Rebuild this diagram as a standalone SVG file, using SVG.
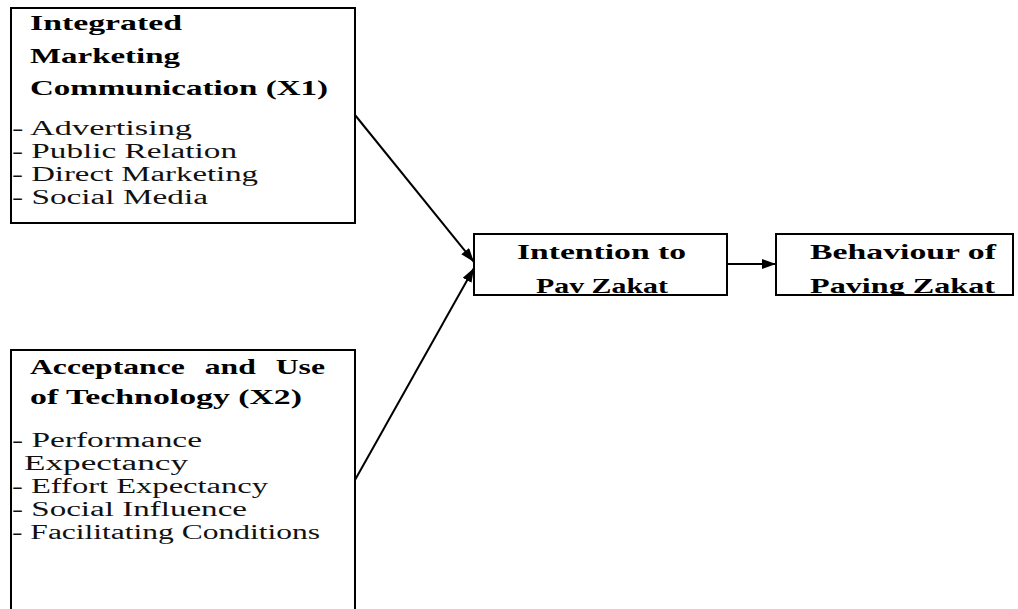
<svg xmlns="http://www.w3.org/2000/svg" width="1018" height="609" viewBox="0 0 1018 609">
<style>
.box{fill:#fff;stroke:#000;stroke-width:2}
.h{font-family:"Liberation Serif","Times New Roman",serif;font-weight:bold;font-size:21px;fill:#000}
.t{font-family:"Liberation Serif","Times New Roman",serif;font-size:20px;fill:#111}
.c{fill:none;stroke:#000;stroke-width:2}
</style>
<defs>
<marker id="arr" markerUnits="userSpaceOnUse" markerWidth="15" markerHeight="10" refX="14" refY="5" orient="auto">
<path d="M0,0 L14,5 L0,10 z" fill="#000"/>
</marker>
<clipPath id="clipMid"><rect x="470" y="230" width="548" height="64"/></clipPath>
</defs>
<rect width="1018" height="609" fill="#fff"/>
<g id="imc">
<rect class="box" x="11" y="8" width="344" height="215"/>
<text class="h" x="30" y="30" textLength="152" lengthAdjust="spacingAndGlyphs">Integrated</text>
<text class="h" x="30" y="63" textLength="150" lengthAdjust="spacingAndGlyphs">Marketing</text>
<text class="h" x="30" y="95" textLength="298" lengthAdjust="spacingAndGlyphs">Communication (X1)</text>
<text class="t" x="12" y="135" textLength="180" lengthAdjust="spacingAndGlyphs">- Advertising</text>
<text class="t" x="12" y="158" textLength="225" lengthAdjust="spacingAndGlyphs">- Public Relation</text>
<text class="t" x="12" y="181" textLength="246" lengthAdjust="spacingAndGlyphs">- Direct Marketing</text>
<text class="t" x="12" y="204" textLength="196" lengthAdjust="spacingAndGlyphs">- Social Media</text>
</g>
<g id="aut">
<rect class="box" x="11" y="350" width="344" height="270"/>
<text class="h" x="30" y="374" textLength="295" lengthAdjust="spacingAndGlyphs" word-spacing="8">Acceptance and Use</text>
<text class="h" x="30" y="404" textLength="272" lengthAdjust="spacingAndGlyphs">of Technology (X2)</text>
<text class="t" x="12" y="447" textLength="190" lengthAdjust="spacingAndGlyphs">- Performance</text>
<text class="t" x="24" y="470" textLength="164" lengthAdjust="spacingAndGlyphs">Expectancy</text>
<text class="t" x="12" y="493" textLength="256" lengthAdjust="spacingAndGlyphs">- Effort Expectancy</text>
<text class="t" x="12" y="516" textLength="235" lengthAdjust="spacingAndGlyphs">- Social Influence</text>
<text class="t" x="12" y="539" textLength="308" lengthAdjust="spacingAndGlyphs">- Facilitating Conditions</text>
</g>
<g id="intention">
<rect class="box" x="474" y="234" width="253" height="61"/>
<g clip-path="url(#clipMid)">
<text class="h" x="517" y="259" textLength="169" lengthAdjust="spacingAndGlyphs">Intention to</text>
<text class="h" x="536" y="293" textLength="132" lengthAdjust="spacingAndGlyphs">Pav Zakat</text>
</g>
</g>
<g id="behaviour">
<rect class="box" x="776" y="234" width="237" height="61"/>
<g clip-path="url(#clipMid)">
<text class="h" x="810" y="259" textLength="186" lengthAdjust="spacingAndGlyphs">Behaviour of</text>
<text class="h" x="810" y="293" textLength="185" lengthAdjust="spacingAndGlyphs">Paving Zakat</text>
</g>
</g>
<g id="connectors">
<line class="c" x1="355" y1="115" x2="474" y2="262" marker-end="url(#arr)"/>
<line class="c" x1="355" y1="480" x2="474" y2="268" marker-end="url(#arr)"/>
<line class="c" x1="727" y1="264" x2="776" y2="264" marker-end="url(#arr)"/>
</g>
</svg>
